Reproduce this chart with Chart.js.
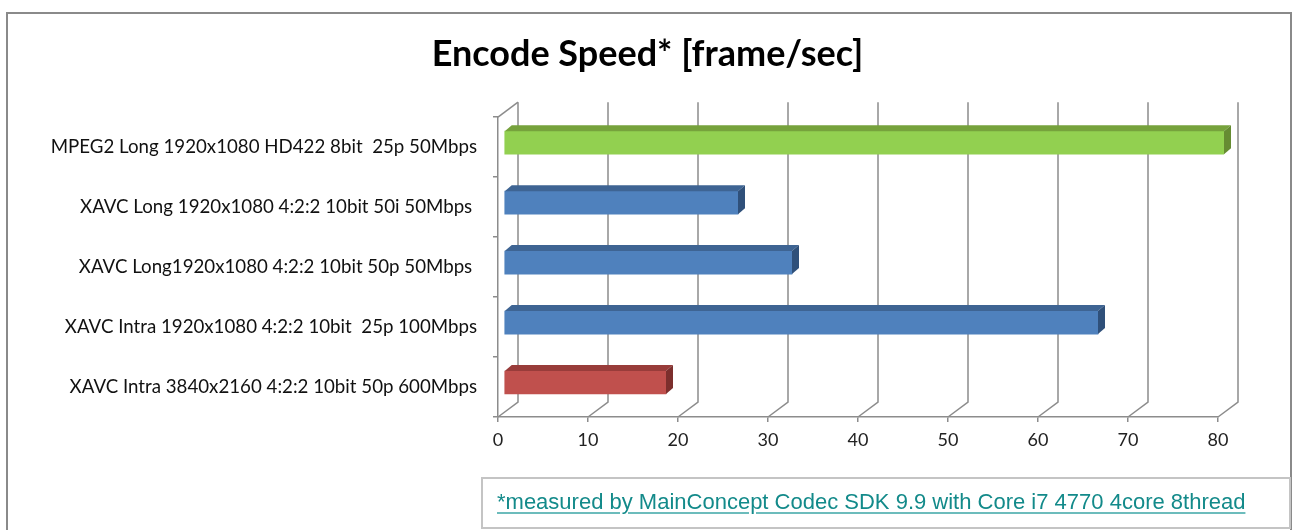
<!DOCTYPE html>
<html lang="en">
<head>
  <meta charset="UTF-8">
  <title>Encode Speed</title>
  <script src="https://cdn.jsdelivr.net/npm/chart.js"></script>
  <style>
    html, body { margin: 0; padding: 0; background: #fff; }
    #wrap { position: relative; width: 1295px; height: 530px; overflow: hidden; }
    #frame { position: absolute; left: 6px; top: 12px; width: 1286px; height: 540px; border: 2px solid #8a8a8a; box-sizing: border-box; }
    canvas { position: absolute; left: 0; top: 0; }
    .note { position: absolute; left: 481px; top: 477px; width: 810px; height: 52px; box-sizing: border-box;
            border: 2px solid #c4c4c4; padding: 10px 0 0 14px;
            font-family: 'Liberation Sans', Arial, sans-serif; font-size: 22px; color: #138a8a;
            text-decoration: underline; text-decoration-color: #6cbcbc; text-underline-offset: 3px; }
  </style>
</head>
<body>
  <div id="wrap">
    <div id="frame"></div>
    <canvas id="speedChart" width="1295" height="530"></canvas>
    <div class="note">*measured by MainConcept Codec SDK 9.9 with Core i7 4770 4core 8thread</div>
  </div>

  <script>
    const categories = [
      'MPEG2 Long 1920x1080 HD422 8bit  25p 50Mbps',
      'XAVC Long 1920x1080 4:2:2 10bit 50i 50Mbps ',
      'XAVC Long1920x1080 4:2:2 10bit 50p 50Mbps ',
      'XAVC Intra 1920x1080 4:2:2 10bit  25p 100Mbps',
      'XAVC Intra 3840x2160 4:2:2 10bit 50p 600Mbps'
    ];
    const speeds = [80, 26, 32, 66, 18];
    const xTicks = [0, 10, 20, 30, 40, 50, 60, 70, 80];

    // front / top / side face colours per bar
    const frontColors = ['#92d050', '#4f81bd', '#4f81bd', '#4f81bd', '#c0504d'];
    const topColors   = ['#76a23c', '#3e6493', '#3e6493', '#3e6493', '#983c3a'];
    const sideColors  = ['#668c32', '#2f507a', '#2f507a', '#2f507a', '#7c2f2d'];

    const wallDX = 20, wallDY = 15;   // depth of back wall
    const barDX = 7, barDY = 6;       // depth of each bar
    const barShiftX = 6, barShiftY = -4.5;
    const lineGray = '#8c8c8c';

    const walls3d = {
      id: 'walls3d',
      beforeDatasetsDraw(chart) {
        const { ctx, chartArea: a, scales: { x } } = chart;
        ctx.save();
        ctx.strokeStyle = lineGray;
        ctx.lineWidth = 1.5;
        xTicks.forEach(v => {
          const px = x.getPixelForValue(v);
          ctx.beginPath();
          ctx.moveTo(px, a.bottom);
          ctx.lineTo(px + wallDX, a.bottom - wallDY);
          ctx.lineTo(px + wallDX, a.top - wallDY);
          ctx.stroke();
        });
        // left wall top edge
        ctx.beginPath();
        ctx.moveTo(a.left, a.top);
        ctx.lineTo(a.left + wallDX, a.top - wallDY);
        ctx.stroke();
        ctx.restore();

        ctx.save();
        ctx.translate(barShiftX, barShiftY);
      },
      afterDatasetsDraw(chart) {
        const { ctx } = chart;
        const meta = chart.getDatasetMeta(0);
        meta.data.forEach((bar, i) => {
          const p = bar.getProps(['x', 'y', 'base', 'height'], true);
          const top = p.y - p.height / 2, bottom = p.y + p.height / 2;
          const left = p.base, right = p.x;
          ctx.fillStyle = topColors[i];
          ctx.beginPath();
          ctx.moveTo(left, top);
          ctx.lineTo(left + barDX, top - barDY);
          ctx.lineTo(right + barDX, top - barDY);
          ctx.lineTo(right, top);
          ctx.closePath();
          ctx.fill();
          ctx.fillStyle = sideColors[i];
          ctx.beginPath();
          ctx.moveTo(right, top);
          ctx.lineTo(right + barDX, top - barDY);
          ctx.lineTo(right + barDX, bottom - barDY);
          ctx.lineTo(right, bottom);
          ctx.closePath();
          ctx.fill();
        });
        ctx.restore();
      }
    };

    new Chart(document.getElementById('speedChart').getContext('2d'), {
      type: 'bar',
      data: {
        labels: categories,
        datasets: [{
          data: speeds,
          backgroundColor: frontColors,
          borderWidth: 0,
          barThickness: 23
        }]
      },
      options: {
        indexAxis: 'y',
        responsive: false,
        animation: false,
        layout: { padding: 0 },
        plugins: {
          legend: { display: false },
          tooltip: { enabled: false },
          title: {
            display: true,
            text: 'Encode Speed* [frame/sec]',
            color: '#000',
            font: { family: 'Lato', size: 36, weight: 'bold' },
            padding: { top: 33, bottom: 41 }
          }
        },
        scales: {
          x: {
            min: 0, max: 80,
            afterFit: s => { s.height = 113; },
            afterBuildTicks: s => { s.ticks = xTicks.map(v => ({ value: v })); },
            ticks: { color: '#222', font: { family: 'Lato', size: 18 }, padding: 7 },
            grid: { drawOnChartArea: false, drawTicks: true, tickLength: 5, color: lineGray, lineWidth: 1.5 },
            border: { color: lineGray, width: 1.5 }
          },
          y: {
            afterFit: s => { s.width = 498; },
            ticks: { color: '#111', font: { family: 'Lato', size: 18.7 }, padding: 16 },
            grid: { drawOnChartArea: false, drawTicks: true, tickLength: 5, color: lineGray, lineWidth: 1.5, offset: true },
            border: { color: lineGray, width: 1.5 }
          },
          // empty right-hand spacer so the plot ends at 80 where the reference does
          spacer: {
            type: 'linear', axis: 'y', position: 'right',
            afterFit: s => { s.width = 77; },
            ticks: { display: false },
            grid: { display: false },
            border: { display: false }
          }
        }
      },
      plugins: [walls3d]
    });
  </script>
</body>
</html>
